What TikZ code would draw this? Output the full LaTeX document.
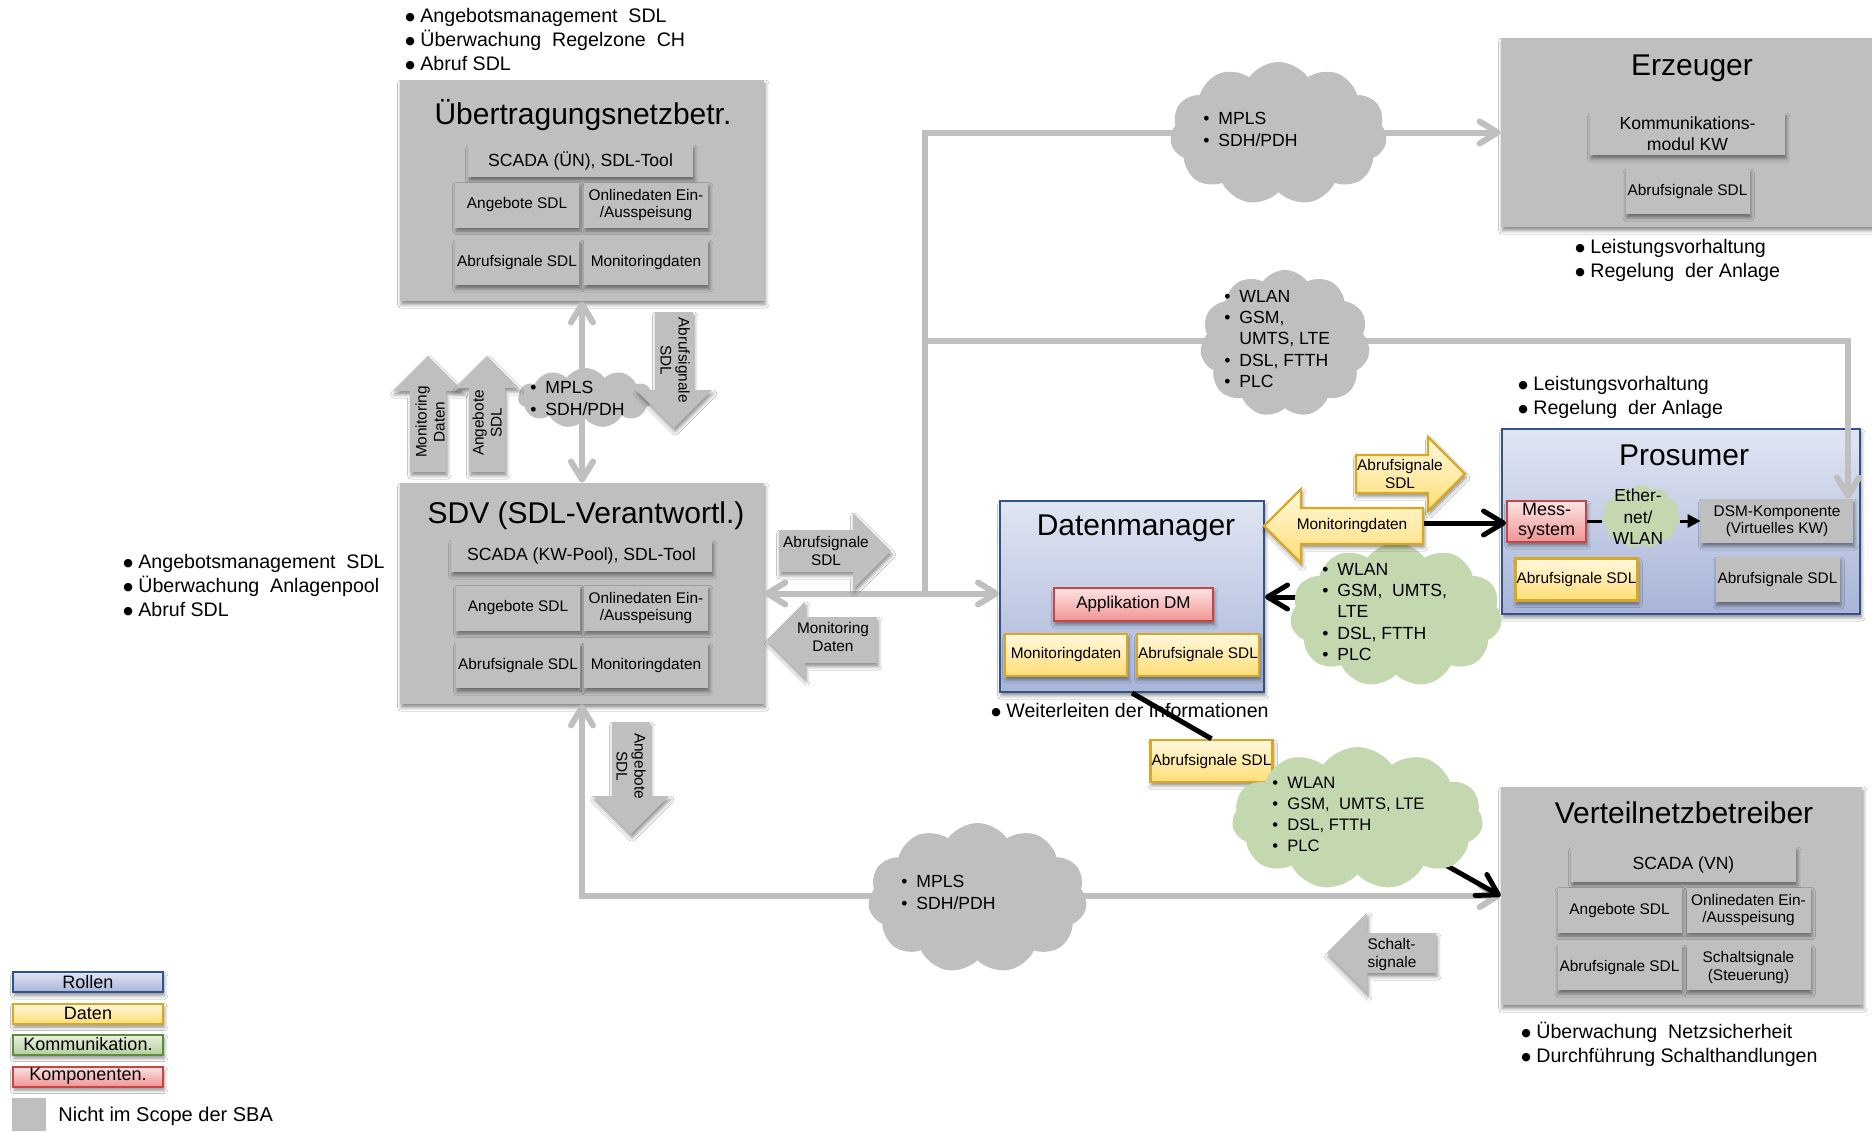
\documentclass[tikz,border=0pt]{standalone}
\usepackage{fontspec}
\setmainfont{Liberation Sans}
\newfontfamily\dvsym{DejaVu Sans}
\usetikzlibrary{shapes.symbols,arrows.meta,shadows.blur}

\definecolor{gr}{RGB}{191,191,191}
\definecolor{bltop}{RGB}{224,229,242}
\definecolor{blbot}{RGB}{168,181,216}
\definecolor{blline}{RGB}{50,82,140}
\definecolor{yltop}{RGB}{255,248,222}
\definecolor{ylbot}{RGB}{255,222,118}
\definecolor{ylline}{RGB}{214,168,38}
\definecolor{rdtop}{RGB}{253,228,228}
\definecolor{rdbot}{RGB}{240,148,148}
\definecolor{rdline}{RGB}{198,70,70}
\definecolor{gnfill}{RGB}{196,216,176}
\definecolor{gntop}{RGB}{234,243,224}
\definecolor{gnbot}{RGB}{180,208,158}
\definecolor{gnline}{RGB}{98,138,64}

\newcommand\fTitle{\fontsize{15}{18}\selectfont}
\newcommand\fHead{\fontsize{8.8}{10.5}\selectfont}
\newcommand\fData{\fontsize{7.7}{8.6}\selectfont}
\newcommand\fBul{\fontsize{9.8}{12}\selectfont}
\newcommand\fCloud{\fontsize{8.8}{11}\selectfont}
\newcommand\fArrow{\fontsize{7.7}{9}\selectfont}
\newcommand\fLegend{\fontsize{9}{10}\selectfont}

\newcommand\bigdot{\makebox[7.5pt][l]{\raisebox{0.6pt}{\dvsym\fontsize{5.5}{6}\selectfont ●}}}
\newcommand\smalldot{\makebox[7.5pt][l]{•}}
\newcommand\indentline{\hspace*{7.5pt}}

% block arrow built pointing right in local coordinates, then placed:
% #1 style, #2 tail point, #3 orientation, #4 length, #5 half shaft, #6 half head
\newcommand\blockarrow[6]{%
  \path[#1,shift={#2},#3] (0,-#5) -- ({#4-#6},-#5) -- ({#4-#6},-#6) -- (#4,0)
    -- ({#4-#6},#6) -- ({#4-#6},#5) -- (0,#5) -- cycle;}

\tikzset{
  sh/.style={blur shadow={shadow xshift=0.6pt,shadow yshift=-1.8pt,
      shadow blur radius=1.8pt,shadow opacity=45}},
  bigbox/.style={fill=gr,sh,inner sep=0pt},
  rolebox/.style={top color=bltop,bottom color=blbot,draw=blline,line width=1pt,sh,inner sep=0pt},
  ttl/.style={anchor=base,inner sep=0pt,font=\fTitle},
  hbox/.style={fill=gr,sh,inner sep=0pt,align=center,font=\fHead},
  dbox/.style={fill=gr,sh,inner sep=0pt,align=center,font=\fData,minimum width=62pt,minimum height=22.5pt},
  ybox/.style={top color=yltop,bottom color=ylbot,draw=ylline,line width=1.2pt,sh,inner sep=0pt,
      align=center,font=\fData,minimum width=61pt,minimum height=21pt},
  rbox/.style={top color=rdtop,bottom color=rdbot,draw=rdline,line width=1pt,sh,inner sep=0pt,align=center},
  btext/.style={anchor=base west,inner sep=0pt,font=\fBul},
  ctext/.style={anchor=north west,inner sep=0pt,align=left,font=\fCloud},
  puffy/.style={cloud,cloud puffs=11,cloud puff arc=110,cloud ignores aspect,inner sep=0pt},
  garrow/.style={fill=gr,sh},
  yarrow/.style={top color=yltop,bottom color=ylbot,draw=ylline,line width=1.2pt,sh},
  alabel/.style={inner sep=0pt,align=center,font=\fArrow},
  gline/.style={draw=gr,line width=3pt},
  bline/.style={draw=black,line width=2.5pt},
  tline/.style={draw=black,line width=1.5pt},
  gbarb/.tip={Straight Barb[length=9pt,width=11pt,round]},
  kbarb/.tip={Straight Barb[length=10pt,width=12pt,round]},
  ktri/.tip={Triangle[length=6.5pt,width=6.5pt]},
  legbox/.style={minimum width=75pt,minimum height=10pt,inner sep=0pt,font=\fLegend,line width=1pt,sh},
}

\begin{document}
\begin{tikzpicture}[x=0.5pt,y=-0.5pt]
\path[use as bounding box,fill=white] (0,0) rectangle (1872,1131);

% ---------- task notes beside the roles
\node[btext] (ub1) at (405,22) {\bigdot Angebotsmanagement\ \ SDL};
\node[btext] (ub2) at (405,46) {\bigdot Überwachung\ \ Regelzone\ \ CH};
\node[btext] (ub3) at (405,70) {\bigdot Abruf SDL};
\node[btext] (sb1) at (123,568) {\bigdot Angebotsmanagement\ \ SDL};
\node[btext] (sb2) at (123,592) {\bigdot Überwachung\ \ Anlagenpool};
\node[btext] (sb3) at (123,616) {\bigdot Abruf SDL};
\node[btext] (eb1) at (1575,253) {\bigdot Leistungsvorhaltung};
\node[btext] (eb2) at (1575,277) {\bigdot Regelung\ \ der Anlage};
\node[btext] (pb1) at (1518,390) {\bigdot Leistungsvorhaltung};
\node[btext] (pb2) at (1518,414) {\bigdot Regelung\ \ der Anlage};
\node[btext] (db1) at (991,717) {\bigdot Weiterleiten der Informationen};
\node[btext] (vb1) at (1521,1038) {\bigdot Überwachung\ \ Netzsicherheit};
\node[btext] (vb2) at (1521,1062) {\bigdot Durchführung Schalthandlungen};

% ---------- role boxes
\node[bigbox,minimum width=182pt,minimum height=110.5pt] (uenb) at (582,190.5) {};
\node[bigbox,minimum width=182pt,minimum height=110.5pt] (sdv) at (582,593.5) {};
\node[bigbox,minimum width=189.5pt,minimum height=94.5pt] (erz) at (1690.5,132.5) {};
\node[bigbox,minimum width=180.5pt,minimum height=109pt] (vnb) at (1681.5,896) {};
\node[rolebox,minimum width=179pt,minimum height=92.5pt] (pros) at (1681,521.5) {};
\node[rolebox,minimum width=132pt,minimum height=95.5pt] (dm) at (1132,596.5) {};

\node[ttl] (uenbT) at (583,124) {Übertragungsnetzbetr.};
\node[ttl] (sdvT) at (586,523) {SDV (SDL-Verantwortl.)};
\node[ttl] (erzT) at (1692,75) {Erzeuger};
\node[ttl] (prosT) at (1684,465) {Prosumer};
\node[ttl] (dmT) at (1136,535) {Datenmanager};
\node[ttl] (vnbT) at (1684,823) {Verteilnetzbetreiber};

% ---------- contents of the roles
\node[hbox,minimum width=112.5pt,minimum height=16pt] (u1) at (580.5,161) {SCADA (ÜN), SDL-Tool};
\node[dbox] (u2) at (517,205) {Angebote SDL};
\node[dbox] (u3) at (646,205) {Onlinedaten Ein-\\/Ausspeisung};
\node[dbox] (u4) at (517,262.5) {Abrufsignale SDL};
\node[dbox] (u5) at (646,262.5) {Monitoringdaten};

\node[hbox,minimum width=130.5pt,minimum height=16pt] (s1) at (581.5,556) {SCADA (KW-Pool), SDL-Tool};
\node[dbox] (s2) at (518,608) {Angebote SDL};
\node[dbox] (s3) at (646,608) {Onlinedaten Ein-\\/Ausspeisung};
\node[dbox] (s4) at (518,665.5) {Abrufsignale SDL};
\node[dbox] (s5) at (646,665.5) {Monitoringdaten};

\node[hbox,minimum width=97.5pt,minimum height=21pt] (e1) at (1687.5,134) {Kommunikations-\\modul KW};
\node[dbox] (e2) at (1687.5,191.5) {Abrufsignale SDL};

\node[hbox,minimum width=112.5pt,minimum height=17.5pt] (v1) at (1683.5,864.5) {SCADA (VN)};
\node[dbox] (v2) at (1619.5,910) {Angebote SDL};
\node[dbox] (v3) at (1748.5,910) {Onlinedaten Ein-\\/Ausspeisung};
\node[dbox] (v4) at (1619.5,967.5) {Abrufsignale SDL};
\node[dbox] (v5) at (1748.5,967.5) {Schaltsignale\\(Steuerung)};

\node[rbox,minimum width=39.5pt,minimum height=20.5pt,font=\fontsize{9}{10}\selectfont] (mess) at (1546.5,521.5) {Mess-\\system};
\node[hbox,minimum width=76pt,minimum height=22pt,font=\fData] (dsm) at (1777,521) {DSM-Komponente\\(Virtuelles KW)};
\node[ybox] (p1) at (1576.5,579.5) {Abrufsignale SDL};
\node[dbox] (p2) at (1777.5,579.5) {Abrufsignale SDL};

\node[rbox,minimum width=79.5pt,minimum height=16.5pt,font=\fontsize{8.5}{10}\selectfont] (app) at (1133.5,604.5) {Applikation DM};
\node[ybox] (d1) at (1066,655) {Monitoringdaten};
\node[ybox] (d2) at (1198,655) {Abrufsignale SDL};

\node[ybox] (ab2) at (1211.5,761) {Abrufsignale SDL};

% ---------- grey communication paths
\coordinate (jn) at (925,593.5);
\coordinate (bend) at (1848,341);
\draw[gline,{gbarb}-{gbarb}] (uenb.south) -- (sdv.north);
\draw[gline,{gbarb}-{gbarb}] (sdv.east) -- (sdv.east -| dm.west);
\draw[gline,-{gbarb}] (jn) |- (erz.west);
\draw[gline,-{gbarb}] (jn |- bend) -- (bend) -- (bend |- dsm.north);
\draw[gline,{gbarb}-{gbarb}] (sdv.south) |- (vnb.west);

% ---------- black data paths
\coordinate (ymtail) at (1423,523);
\coordinate (tick) at (1390,560);
\coordinate (dmin) at (1330,597);
\coordinate (vnbin) at (1442,863);
\draw[bline] (tick) -- (tick |- ymtail);
\draw[bline,-{kbarb}] (ymtail) -- (ymtail -| mess.west);
\draw[bline,-{kbarb}] (dmin) -- (dmin -| dm.east);
\draw[bline] (dm.south) -- (ab2.north);
\draw[bline,-{kbarb}] (vnbin) -- (vnb.west);

% ---------- networks
\node[puffy,fill=gr,minimum width=67.5pt,minimum height=30pt] (c1) at (585.5,398) {};
\node[ctext] (c1t) at (530,381) {\smalldot MPLS\\\smalldot SDH/PDH};
\node[puffy,fill=gr,minimum width=108.5pt,minimum height=71.5pt] (c2) at (1278.5,133.5) {};
\node[ctext] (c2t) at (1203,112) {\smalldot MPLS\\\smalldot SDH/PDH};
\node[puffy,fill=gr,minimum width=85pt,minimum height=73.5pt] (c3) at (1285,343.5) {};
\node[ctext,font=\fontsize{8.8}{10.6}\selectfont] (c3t) at (1224,290) {\smalldot WLAN\\\smalldot GSM,\\\indentline UMTS, LTE\\\smalldot DSL, FTTH\\\smalldot PLC};
\node[puffy,fill=gnfill,minimum width=106pt,minimum height=72pt] (c4) at (1396,615) {};
\node[ctext,font=\fontsize{8.8}{10.6}\selectfont] (c4t) at (1322,563) {\smalldot WLAN\\\smalldot GSM,\ \ UMTS,\\\indentline LTE\\\smalldot DSL, FTTH\\\smalldot PLC};
\node[puffy,fill=gnfill,minimum width=125.5pt,minimum height=71.5pt] (c5) at (1357.5,818.5) {};
\node[ctext,font=\fontsize{8.3}{10.5}\selectfont] (c5t) at (1272,777) {\smalldot WLAN\\\smalldot GSM,\ \ UMTS, LTE\\\smalldot DSL, FTTH\\\smalldot PLC};
\node[puffy,fill=gr,minimum width=109.5pt,minimum height=75pt] (c6) at (977.5,898) {};
\node[ctext] (c6t) at (901,875) {\smalldot MPLS\\\smalldot SDH/PDH};

% local link inside the prosumer
\node[puffy,fill=gnfill,minimum width=39pt,minimum height=31.5pt] (ethc) at (1641,516.5) {};
\node[inner sep=0pt,align=center,font=\fontsize{8.7}{10.8}\selectfont] (etht) at (1638,517) {Ether-\\net/\\WLAN};
\draw[tline] (mess.east) -- (mess.east -| ethc.west);
\draw[tline,-{ktri}] (ethc.east |- dsm.west) -- (dsm.west);

% ---------- information flows
\blockarrow{garrow}{(428,472)}{rotate=90}{116}{18}{35}
\node[alabel,rotate=90] (lmon) at (430,422) {Monitoring\\Daten};
\blockarrow{garrow}{(487,472)}{rotate=90}{116}{18}{32}
\node[alabel,rotate=90] (lang) at (487,423) {Angebote\\SDL};
\blockarrow{garrow}{(674,312)}{rotate=-90}{116}{19}{38}
\node[alabel,rotate=-90] (labr) at (675,360) {Abrufsignale\\SDL};
\blockarrow{garrow}{(779,551)}{xscale=1}{112}{21}{38}
\node[alabel] (labr2) at (826,551) {Abrufsignale\\SDL};
\blockarrow{garrow}{(877,640)}{xscale=-1}{110}{23}{38}
\node[alabel] (lmon2) at (833,637) {Monitoring\\Daten};
\blockarrow{garrow}{(631,722)}{rotate=-90}{112}{19}{38}
\node[alabel,rotate=-90] (lang2) at (631,766) {Angebote\\SDL};
\blockarrow{garrow}{(1436,953)}{xscale=-1}{109}{20}{40}
\node[alabel,align=left] (lsch) at (1392,954) {Schalt-\\signale};
\blockarrow{yarrow}{(1356,474)}{xscale=1}{109}{19}{37}
\node[alabel] (yabr) at (1400,474) {Abrufsignale\\SDL};
\blockarrow{yarrow}{(1423,526)}{xscale=-1}{159}{18}{37}
\node[alabel] (ymon) at (1352,526) {Monitoringdaten};

% ---------- legend
\node[legbox,top color=bltop,bottom color=blbot,draw=blline] (lrol) at (88,982) {Rollen};
\node[legbox,top color=yltop,bottom color=ylbot,draw=ylline] (ldat) at (88,1013.5) {Daten};
\node[legbox,top color=gntop,bottom color=gnbot,draw=gnline] (lkom) at (88,1044.5) {Kommunikation.};
\node[legbox,top color=rdtop,bottom color=rdbot,draw=rdline] (lkmp) at (88,1076.5) {Komponenten.};
\node[fill=gr,minimum width=17pt,minimum height=16.5pt,inner sep=0pt] (lns) at (29,1114.5) {};
\node[btext,font=\fontsize{10}{12}\selectfont] (lnt) at (58,1121) {Nicht im Scope der SBA};
\end{tikzpicture}
\end{document}
